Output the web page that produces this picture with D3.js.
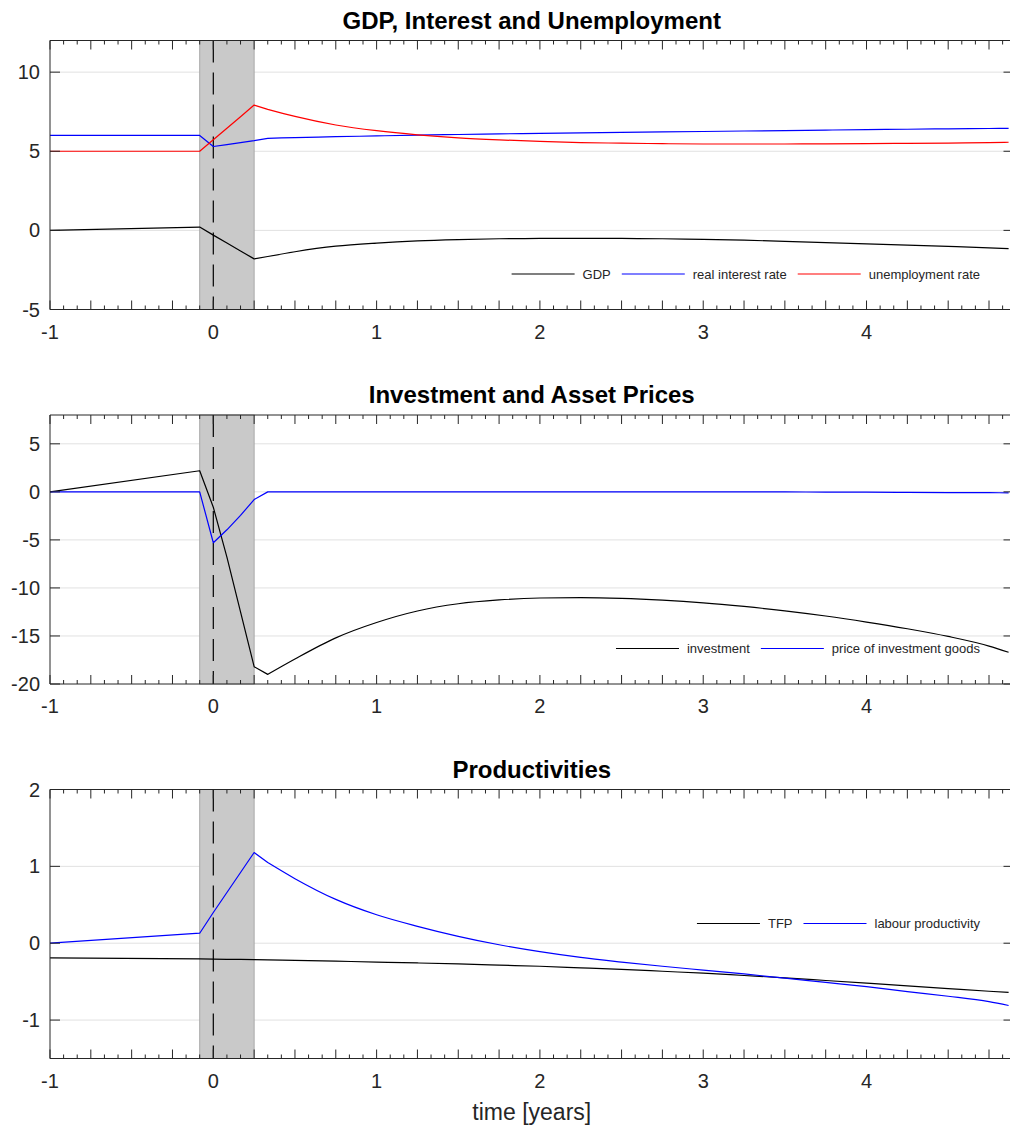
<!DOCTYPE html>
<html>
<head>
<meta charset="utf-8">
<script src="https://cdn.jsdelivr.net/npm/d3@7"></script>
<style>
    body { margin: 0; background: #fff; }
    svg { display: block; font-family: "Liberation Sans", Arial, sans-serif; }
</style>
</head>
<body>
<svg id="chart"></svg>
<script>
// time points in years (monthly around the shock, quarterly afterwards)
const time = [-1, -1/12, 0, 1/12, 2/12, 3/12, 4/12, 0.5, 0.75, 1, 1.25, 1.5, 1.75, 2, 2.25, 2.5,
    2.75, 3, 3.25, 3.5, 3.75, 4, 4.25, 4.5, 4.75, 4.87];

// panel 1
const gdp = [0, 0.21, -0.3, -0.8, -1.3, -1.8, -1.65, -1.35, -1.0, -0.8, -0.66, -0.58, -0.53, -0.51,
    -0.5, -0.51, -0.53, -0.57, -0.62, -0.69, -0.77, -0.85, -0.93, -1.01, -1.1, -1.15];
const realRate = [6, 6, 5.3, 5.42, 5.55, 5.67, 5.82, 5.86, 5.92, 5.97, 6.02, 6.06, 6.1, 6.13, 6.16,
    6.19, 6.22, 6.25, 6.28, 6.31, 6.34, 6.37, 6.39, 6.42, 6.44, 6.45];
const unemployment = [5, 5, 5.73, 6.45, 7.18, 7.92, 7.65, 7.2, 6.66, 6.3, 6.04, 5.85, 5.72, 5.62,
    5.55, 5.51, 5.48, 5.46, 5.46, 5.46, 5.47, 5.48, 5.5, 5.52, 5.54, 5.57];

// panel 2
const investment = [0, 2.2, -1.6, -6.8, -12.5, -18.2, -19.0, -17.4, -15.2, -13.6, -12.4, -11.65,
    -11.25, -11.05, -11.0, -11.08, -11.27, -11.55, -11.93, -12.38, -12.92, -13.55, -14.25, -15.05,
    -16.05, -16.7];
const investPrice = [0, 0, -5.3, -3.95, -2.45, -0.8, 0, 0, 0, 0, 0, 0, 0, 0, 0, 0, 0, 0, 0, -0.01,
    -0.02, -0.03, -0.05, -0.07, -0.09, -0.1];

// panel 3
const tfp = [-0.19, -0.205, -0.207, -0.209, -0.211, -0.214, -0.217, -0.224, -0.234, -0.245, -0.257,
    -0.27, -0.285, -0.3, -0.32, -0.34, -0.365, -0.39, -0.42, -0.45, -0.485, -0.52, -0.555, -0.59,
    -0.625, -0.64];
const labourProd = [0, 0.13, 0.4, 0.66, 0.92, 1.18, 1.05, 0.84, 0.57, 0.37, 0.22, 0.09, -0.02, -0.11,
    -0.185, -0.245, -0.3, -0.35, -0.4, -0.455, -0.51, -0.565, -0.63, -0.69, -0.76, -0.81];

const titles = ["GDP, Interest and Unemployment", "Investment and Asset Prices", "Productivities"];
const yDomains = [[-5, 12], [-20, 8], [-1.5, 2]];
const yTicks = [[-5, 0, 5, 10], [-20, -15, -10, -5, 0, 5], [-1, 0, 1, 2]];
const xDomain = [-1, 4.9];
const xTickLabels = [-1, 0, 1, 2, 3, 4];
const shockWindow = [-1/12, 0.25];

const panels = [
    { legendY: 274, series: [
        { name: "GDP", values: gdp, color: "#000000" },
        { name: "real interest rate", values: realRate, color: "#0000ff" },
        { name: "unemployment rate", values: unemployment, color: "#ff0000" }] },
    { legendY: 648.5, series: [
        { name: "investment", values: investment, color: "#000000" },
        { name: "price of investment goods", values: investPrice, color: "#0000ff" }] },
    { legendY: 923.5, series: [
        { name: "TFP", values: tfp, color: "#000000" },
        { name: "labour productivity", values: labourProd, color: "#0000ff" }] }
];

const svgWidth = 1010;
const svgHeight = 1130;
const left = 50;
const right = 1013.5;
const panelTops = [40.5, 415, 789.5];
const panelHeight = 269;
const axisColor = "#262626";
const kinkIndex = 6; // last kink of the shock window (t = 4 months)

const svg = d3.select("#chart")
    .attr("width", svgWidth)
    .attr("height", svgHeight);

const x = d3.scaleLinear().domain(xDomain).range([left, right]);

// quarter ticks (long) and monthly ticks (short)
const quarterTicks = d3.range(-4, 24).map(q => q / 4);
const monthTicks = d3.range(-12, 60).filter(m => m % 3 !== 0).map(m => m / 12);

panels.forEach((panel, i) => {
    const top = panelTops[i];
    const bottom = top + panelHeight;
    const y = d3.scaleLinear().domain(yDomains[i]).range([bottom, top]);
    const g = svg.append("g");

    // horizontal grid
    g.selectAll(".grid")
        .data(yTicks[i].filter(t => t > yDomains[i][0] && t < yDomains[i][1]))
        .enter().append("line")
        .attr("x1", left).attr("x2", right)
        .attr("y1", d => y(d)).attr("y2", d => y(d))
        .attr("stroke", "#e1e1e1")
        .attr("stroke-width", 1);

    // shaded shock window
    g.append("rect")
        .attr("x", x(shockWindow[0]))
        .attr("y", top)
        .attr("width", x(shockWindow[1]) - x(shockWindow[0]))
        .attr("height", panelHeight)
        .attr("fill", "#c9c9c9")
        .attr("stroke", "#a9a9a9")
        .attr("stroke-width", 1);

    // dashed line at t = 0
    g.append("line")
        .attr("x1", x(0)).attr("x2", x(0))
        .attr("y1", top).attr("y2", bottom)
        .attr("stroke", "#000")
        .attr("stroke-width", 1.2)
        .attr("stroke-dasharray", "22,10");

    // data lines: straight through the shock window, smooth afterwards
    const straight = d3.line()
        .x(d => x(d[0]))
        .y(d => y(d[1]));
    const smooth = d3.line()
        .x(d => x(d[0]))
        .y(d => y(d[1]))
        .curve(d3.curveMonotoneX);

    panel.series.forEach(s => {
        const pts = s.values.map((v, k) => [time[k], v]);
        const d = straight(pts.slice(0, kinkIndex + 1)) +
            smooth(pts.slice(kinkIndex)).replace(/^M/, "L");
        g.append("path")
            .attr("d", d)
            .attr("fill", "none")
            .attr("stroke", s.color)
            .attr("stroke-width", 1.2)
            .attr("stroke-linejoin", "round");
    });

    // legend (right aligned, no box)
    const legendY = panel.legendY;
    const legend = g.append("g");
    let cursor = 0;
    panel.series.forEach((s, k) => {
        if (k > 0) cursor += 11;
        legend.append("line")
            .attr("x1", cursor).attr("x2", cursor + 63)
            .attr("y1", legendY).attr("y2", legendY)
            .attr("stroke", s.color)
            .attr("stroke-width", 1.2);
        const label = legend.append("text")
            .attr("x", cursor + 71)
            .attr("y", legendY)
            .attr("dy", "0.35em")
            .style("font-size", "13px")
            .style("fill", axisColor)
            .text(s.name);
        cursor += 71 + label.node().getComputedTextLength();
    });
    legend.attr("transform", `translate(${980 - cursor}, 0)`);

    // axes box: top, bottom, left, right
    g.append("path")
        .attr("d", `M${right},${top}H${left}V${bottom}H${right}V${top}`)
        .attr("fill", "none")
        .attr("stroke", axisColor)
        .attr("stroke-width", 1);

    // x ticks, inward on top and bottom
    [[quarterTicks, 9], [monthTicks, 4]].forEach(([ticks, len]) => {
        const visible = ticks.filter(t => t >= xDomain[0] && t <= xDomain[1]);
        g.selectAll(null).data(visible).enter().append("line")
            .attr("x1", d => x(d)).attr("x2", d => x(d))
            .attr("y1", bottom).attr("y2", bottom - len)
            .attr("stroke", axisColor);
        g.selectAll(null).data(visible).enter().append("line")
            .attr("x1", d => x(d)).attr("x2", d => x(d))
            .attr("y1", top).attr("y2", top + len)
            .attr("stroke", axisColor);
    });

    // y ticks, inward on left and right
    g.selectAll(null).data(yTicks[i]).enter().append("line")
        .attr("x1", left).attr("x2", left + 10)
        .attr("y1", d => y(d)).attr("y2", d => y(d))
        .attr("stroke", axisColor);
    g.selectAll(null).data(yTicks[i]).enter().append("line")
        .attr("x1", right).attr("x2", right - 10)
        .attr("y1", d => y(d)).attr("y2", d => y(d))
        .attr("stroke", axisColor);

    // y tick labels
    g.selectAll(null).data(yTicks[i]).enter().append("text")
        .attr("x", 40)
        .attr("y", d => y(d))
        .attr("dy", "0.35em")
        .attr("text-anchor", "end")
        .style("font-size", "20px")
        .style("fill", axisColor)
        .text(d => d);

    // x tick labels
    g.selectAll(null).data(xTickLabels).enter().append("text")
        .attr("x", d => x(d))
        .attr("y", bottom + 29)
        .attr("text-anchor", "middle")
        .style("font-size", "20px")
        .style("fill", axisColor)
        .text(d => d);

    // title
    g.append("text")
        .attr("x", (left + right) / 2)
        .attr("y", top - 12)
        .attr("text-anchor", "middle")
        .style("font-size", "24px")
        .style("font-weight", "bold")
        .style("fill", "#000")
        .text(titles[i]);
});

// x-axis title
svg.append("text")
    .attr("x", (left + right) / 2)
    .attr("y", 1120)
    .attr("text-anchor", "middle")
    .style("font-size", "23px")
    .style("fill", axisColor)
    .text("time [years]");
</script>
</body>
</html>
